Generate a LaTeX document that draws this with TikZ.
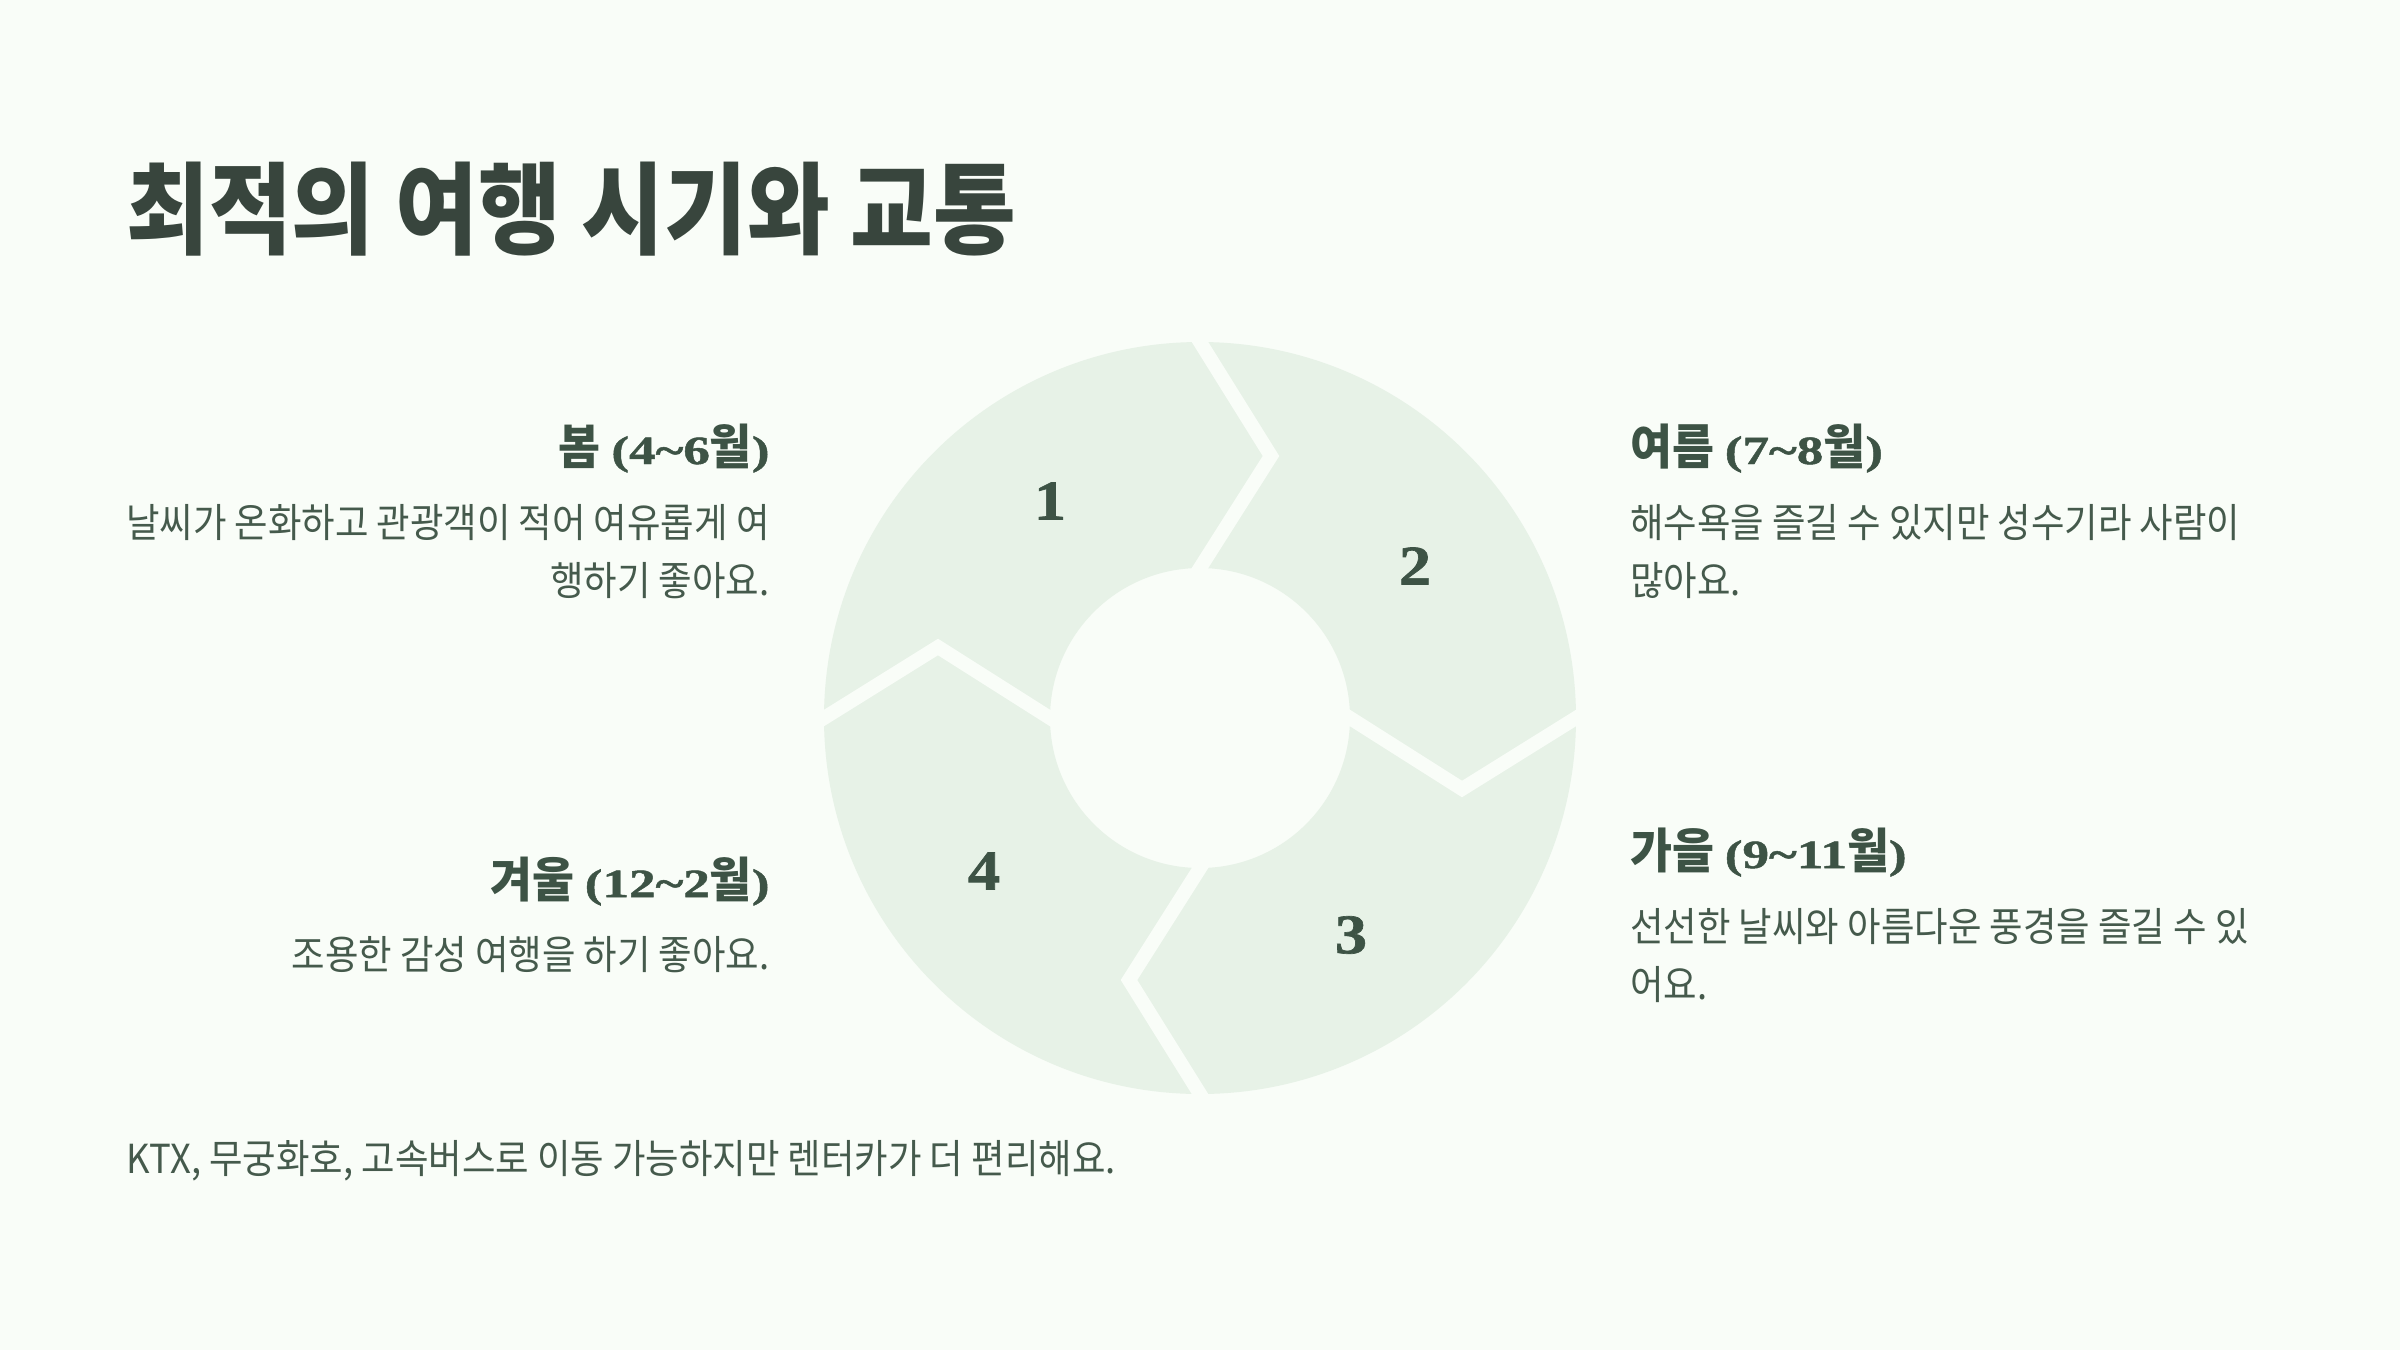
\documentclass[tikz,border=0pt]{standalone}
\usepackage{fontspec}
\newfontfamily\krt[FakeStretch=0.9]{Noto Sans CJK KR}
\newfontfamily\krbody[FakeStretch=0.91]{Noto Sans CJK KR}
\newfontfamily\krhead[FakeStretch=0.95]{Noto Sans CJK KR}
\newfontfamily\numf[FakeStretch=1.33, FakeBold=1.2]{Liberation Serif Bold}
\newfontfamily\ringf[FakeStretch=1.15, FakeBold=1.2]{Liberation Serif Bold}
\definecolor{bgc}{HTML}{F9FDF8}
\definecolor{ringc}{HTML}{E7F2E7}
\definecolor{titlec}{HTML}{38453D}
\definecolor{headc}{HTML}{3D5345}
\definecolor{bodyc}{HTML}{455A4C}
\newcommand{\hnum}[1]{{\numf\fontsize{20}{24}\selectfont #1}}
\begin{document}
\begin{tikzpicture}[x=0.5pt,y=-0.5pt,
  titletext/.style={font=\krt\bfseries\fontsize{50}{60}\selectfont, text=titlec, inner sep=0pt},
  headtext/.style={font=\krhead\bfseries\fontsize{24}{28}\selectfont, text=headc, inner sep=0pt},
  bodytext/.style={font=\krbody\fontsize{20}{29}\selectfont, text=bodyc, inner sep=0pt},
  numtext/.style={font=\ringf\fontsize{28}{32}\selectfont, text=headc, inner sep=0pt},
  gapline/.style={draw=bgc, line width=7pt, line join=miter, shorten <=-8pt, shorten >=-8pt}]
\path[use as bounding box, fill=bgc] (0,0) rectangle (2400,1350);
% ring
\coordinate (c) at (1200,718);
\fill[ringc, even odd rule] (c) circle[radius=188pt] (c) circle[radius=75pt];
\coordinate (t1) at (1271,456);
\coordinate (t2) at (1462,789);
\coordinate (t3) at (1129,980);
\coordinate (t4) at (938,647);
\draw[gapline] (1200,342) -- (t1) -- (1200,568);
\draw[gapline] (1576,718) -- (t2) -- (1350,718);
\draw[gapline] (1200,1094) -- (t3) -- (1200,868);
\draw[gapline] (824,718) -- (t4) -- (1050,718);
\node[numtext] (n1) at (1050,501) {1};
\node[numtext] (n2) at (1415,566) {2};
\node[numtext] (n3) at (1351,935) {3};
\node[numtext] (n4) at (984,871) {4};
% title
\node[titletext, anchor=base west] (title) at (126,246) {최적의 여행 시기와 교통};
% spring
\node[headtext, anchor=base east] (h1) at (770,464) {봄 \hnum{(4\textasciitilde6}월\hnum{)}};
\node[bodytext, anchor=north east, align=right] (b1) at (770,504) {날씨가 온화하고 관광객이 적어 여유롭게 여\\행하기 좋아요.};
% summer
\node[headtext, anchor=base west] (h2) at (1630,464) {여름 \hnum{(7\textasciitilde8}월\hnum{)}};
\node[bodytext, anchor=north west, align=left] (b2) at (1630,504) {해수욕을 즐길 수 있지만 성수기라 사람이\\많아요.};
% autumn
\node[headtext, anchor=base west] (h3) at (1630,868) {가을 \hnum{(9\textasciitilde11}월\hnum{)}};
\node[bodytext, anchor=north west, align=left] (b3) at (1630,908) {선선한 날씨와 아름다운 풍경을 즐길 수 있\\어요.};
% winter
\node[headtext, anchor=base east] (h4) at (770,897) {겨울 \hnum{(12\textasciitilde2}월\hnum{)}};
\node[bodytext, anchor=north east, align=right] (b4) at (770,936) {조용한 감성 여행을 하기 좋아요.};
% footer
\node[bodytext, anchor=base west] (foot) at (126,1173) {KTX, 무궁화호, 고속버스로 이동 가능하지만 렌터카가 더 편리해요.};
\end{tikzpicture}
\end{document}
